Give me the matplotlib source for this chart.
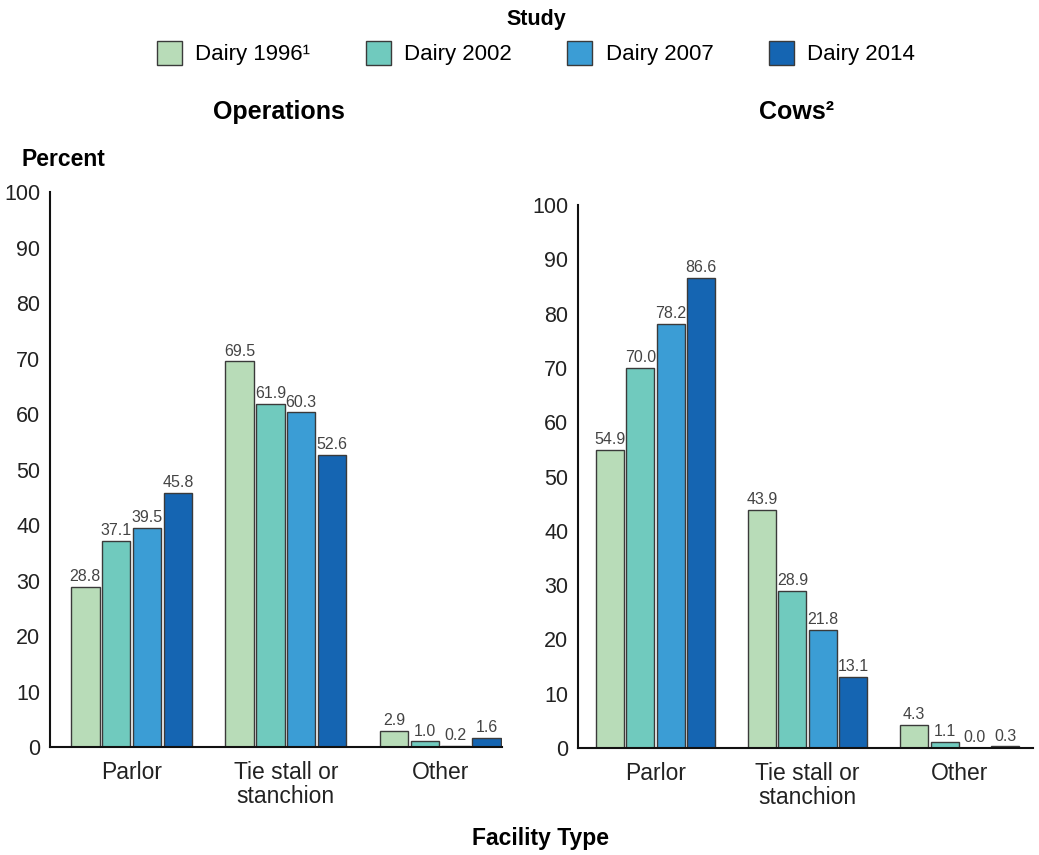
import matplotlib.pyplot as plt
import numpy as np
from matplotlib.patches import Patch

plt.rcParams['font.family'] = ['Liberation Sans', 'DejaVu Sans']

facility_types = ['Parlor', 'Tie stall or\nstanchion', 'Other']
studies = ['Dairy 1996\u00b9', 'Dairy 2002', 'Dairy 2007', 'Dairy 2014']
study_colors = ['#b8dcb8', '#70cabe', '#3b9dd5', '#1565b2']

# percent of operations, by study (rows) and facility type (cols)
operations = [
    [28.8, 69.5, 2.9],
    [37.1, 61.9, 1.0],
    [39.5, 60.3, 0.2],
    [45.8, 52.6, 1.6],
]
# percent of cows
cows = [
    [54.9, 43.9, 4.3],
    [70.0, 28.9, 1.1],
    [78.2, 21.8, 0.0],
    [86.6, 13.1, 0.3],
]

fig = plt.figure(figsize=(10.39, 8.55), dpi=100)
ax_ops = fig.add_axes([0.048, 0.1263, 0.435, 0.649])
ax_cows = fig.add_axes([0.5563, 0.1251, 0.4377, 0.6349])


def draw_panel(ax, values, xlim):
    x = np.arange(len(facility_types))
    width = 0.2
    for i, color in enumerate(study_colors):
        pos = x + (i - 1.5) * width
        bars = ax.bar(pos, values[i], width=width * 0.92, color=color,
                      edgecolor='#3a3a3a', linewidth=1.0)
        for b, v in zip(bars, values[i]):
            ax.annotate(f'{v:.1f}', (b.get_x() + b.get_width() / 2, v),
                        xytext=(0, 2), textcoords='offset points',
                        ha='center', va='bottom', fontsize=11.5, color='#444444')
    ax.set_ylim(0, 100)
    ax.set_xlim(*xlim)
    ax.set_yticks(range(0, 101, 10))
    ax.tick_params(axis='y', length=0, labelsize=15.5, pad=7, labelcolor='#222222')
    ax.tick_params(axis='x', length=0, labelsize=16.5, pad=10, labelcolor='#222222')
    ax.set_xticks(x)
    ax.set_xticklabels(facility_types, linespacing=1.05)
    for side in ['top', 'right']:
        ax.spines[side].set_visible(False)
    for side in ['left', 'bottom']:
        ax.spines[side].set_linewidth(1.5)
        ax.spines[side].set_color('#111111')


draw_panel(ax_ops, operations, (-0.53, 2.4))
draw_panel(ax_cows, cows, (-0.51, 2.48))

fig.text(0.268, 1 - 112 / 855, 'Operations', ha='center', va='center',
         fontsize=18, fontweight='bold')
fig.text(0.767, 1 - 112 / 855, 'Cows\u00b2', ha='center', va='center',
         fontsize=18, fontweight='bold')
fig.text(0.021, 1 - 160 / 855, 'Percent', ha='left', va='center',
         fontsize=16.5, fontweight='bold')
fig.text(0.52, 1 - 838 / 855, 'Facility Type', ha='center', va='center',
         fontsize=16.5, fontweight='bold')

handles = [Patch(facecolor=c, edgecolor='#3a3a3a', linewidth=1.0)
           for c in study_colors]
leg = fig.legend(handles, studies, loc='upper center', ncol=4,
                 bbox_to_anchor=(0.516, 1.0), frameon=False, fontsize=16,
                 title='Study', title_fontproperties={'weight': 'bold', 'size': 15.5},
                 handlelength=1.12, handleheight=1.26, handletextpad=0.6,
                 columnspacing=2.5, borderaxespad=0.2, borderpad=0.2)

fig.savefig('out.png', dpi=100)
